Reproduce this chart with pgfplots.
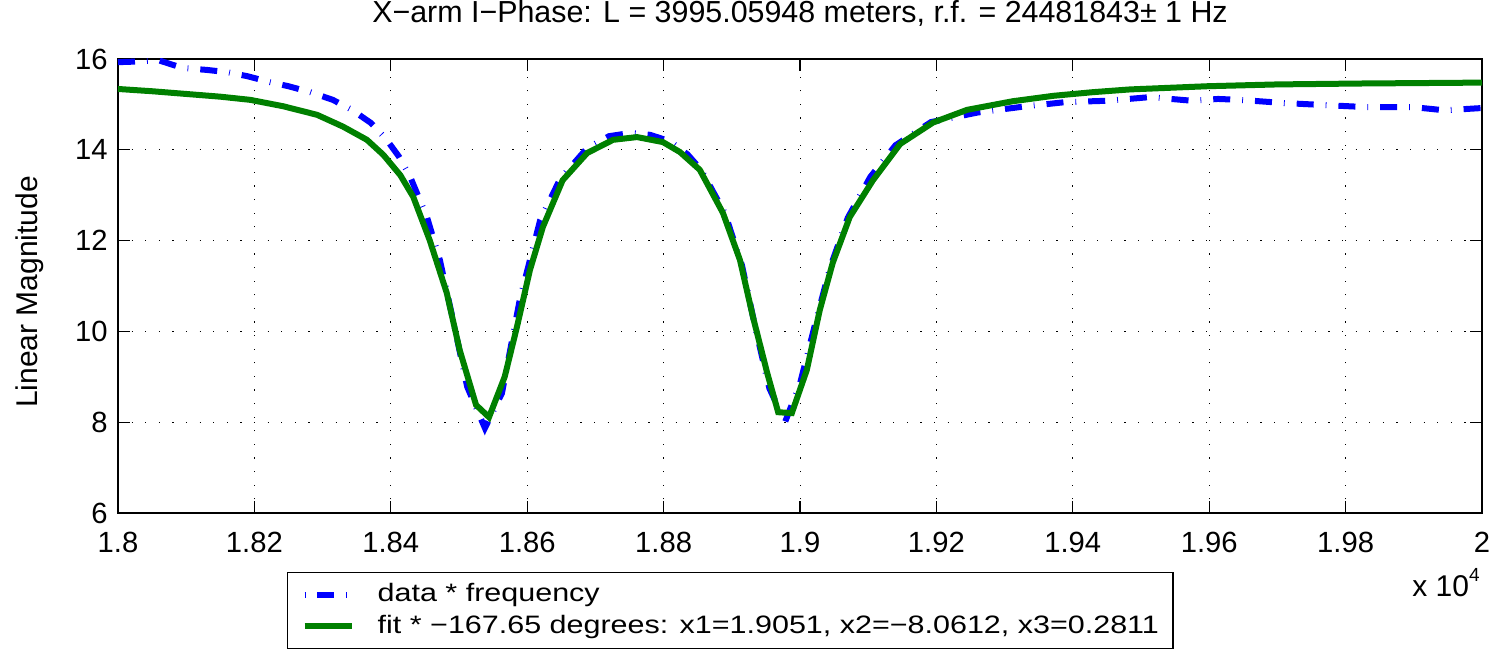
\documentclass[border=0pt]{standalone}
\usepackage{pgfplots}
\pgfplotsset{compat=1.18}
\usepackage{fontspec}
\setmainfont{Liberation Sans}
\newfontfamily\legfont[FakeStretch=1.21]{Liberation Sans}
\definecolor{mgreen}{RGB}{0,128,0}
\definecolor{mblue}{RGB}{0,0,255}

\begin{document}
\fontsize{15}{18}\selectfont
\begin{tikzpicture}
\path[use as bounding box] (-59pt,-70pt) rectangle (691.5pt,256.5pt);
\begin{axis}[
  at={(0,0)}, anchor=south west,
  scale only axis, width=682pt, height=227pt,
  xmin=1.8, xmax=2, ymin=6, ymax=16,
  xtick={1.8,1.82,1.84,1.86,1.88,1.9,1.92,1.94,1.96,1.98,2},
  xticklabels={1.8,1.82,1.84,1.86,1.88,1.9,1.92,1.94,1.96,1.98,2},
  ytick={6,8,10,12,14,16},
  scaled ticks=false,
  tick align=inside, major tick length=6pt,
  grid=major,
  major grid style={black, line width=0.5pt, dash pattern=on 0.6pt off 6.2pt},
  axis line style={line width=0.7pt},
  tick style={line width=0.6pt, black},
  /pgf/number format/assume math mode=true,
  ticklabel style={font=\fontsize{14.6}{17}\selectfont},
  xticklabel style={yshift=-4.5pt},
  title={X−arm I−Phase: L = 3995.05948 meters, r.f. = 24481843± 1 Hz},
  title style={at={(0.5,1)}, anchor=base, yshift=12pt, font=\fontsize{15.2}{18}\selectfont},
  ylabel={Linear Magnitude},
  ylabel style={at={(axis description cs:-0.0645,0.487)}, anchor=center, font=\fontsize{15}{18}\selectfont},
  legend style={at={(axis description cs:0.1239,-0.13)}, anchor=north west,
    draw=black, line width=0.7pt, font=\legfont\fontsize{12.6}{15}\selectfont,
    inner xsep=7pt, inner ysep=5.5pt, row sep=4.2pt, column sep=11.5pt,
    nodes={inner sep=0pt}},
  legend cell align=left,
  legend image code/.code={\draw[#1, dash phase=14.5pt] (0pt,0pt) -- (23.5pt,0pt);},
]
\addplot[mblue, line width=3pt, dash pattern=on 8.5pt off 6pt on 0.4pt off 6pt] coordinates {
(1.8000,15.93) (1.8020,15.94) (1.8060,15.97) (1.8095,15.80) (1.8130,15.76)
(1.8160,15.71) (1.8190,15.62) (1.8223,15.49) (1.8250,15.40) (1.8282,15.27)
(1.8315,15.10) (1.8343,14.88) (1.8371,14.59) (1.8393,14.24) (1.8412,13.85)
(1.8428,13.42) (1.8453,12.52) (1.8472,11.57) (1.8492,10.20) (1.8512,8.78)
(1.8538,7.87) (1.8563,8.64) (1.8589,10.69) (1.8619,12.45) (1.8648,13.35)
(1.8688,14.04) (1.8720,14.30) (1.8751,14.37) (1.8780,14.33) (1.8809,14.19)
(1.8835,13.90) (1.8855,13.56) (1.8890,12.60) (1.8915,11.45) (1.8935,10.05)
(1.8955,8.75) (1.8978,8.00) (1.9000,8.85) (1.9022,10.15) (1.9044,11.40)
(1.9070,12.50) (1.9103,13.40) (1.9140,14.10) (1.9192,14.61) (1.9260,14.82)
(1.9327,14.95) (1.9389,15.05) (1.9450,15.08) (1.9513,15.16) (1.9575,15.08)
(1.9613,15.12) (1.9645,15.10) (1.9710,15.03) (1.9776,14.98) (1.9831,14.94)
(1.9899,14.94) (1.9945,14.87) (2.0000,14.92)
};
\addlegendentry{data * frequency}
\addplot[mgreen, line width=3pt] coordinates {
(1.8000,15.34) (1.8050,15.29) (1.8100,15.23) (1.8150,15.17) (1.8194,15.10)
(1.8242,14.96) (1.8292,14.77) (1.8330,14.51) (1.8365,14.22) (1.8389,13.89)
(1.8414,13.44) (1.8433,12.96) (1.8457,12.01) (1.8482,10.85)
(1.8501,9.59) (1.8525,8.38) (1.8544,8.11) (1.8567,9.00) (1.8585,10.10)
(1.8604,11.35) (1.8623,12.30) (1.8652,13.33) (1.8688,13.93) (1.8726,14.22)
(1.8761,14.28) (1.8799,14.17) (1.8824,13.95) (1.8853,13.56) (1.8887,12.61)
(1.8912,11.57) (1.8931,10.32) (1.8952,9.08) (1.8968,8.22) (1.8988,8.20)
(1.9010,9.15) (1.9029,10.47) (1.9048,11.51) (1.9073,12.52) (1.9107,13.33)
(1.9147,14.13) (1.9195,14.60) (1.9245,14.88) (1.9312,15.07) (1.9372,15.19)
(1.9430,15.27) (1.9484,15.33) (1.9597,15.40) (1.9700,15.44) (1.9821,15.46)
(2.0000,15.48)
};
\addlegendentry{fit * −167.65 degrees: x1=1.9051, x2=−8.0612, x3=0.2811}
\end{axis}
\node[anchor=base east, inner sep=0pt, font=\fontsize{15}{18}\selectfont] at ([yshift=-42pt, xshift=-1pt]current axis.south east) {x 10\raisebox{7.5pt}{\fontsize{9.5}{11}\selectfont 4}};
\end{tikzpicture}
\end{document}
